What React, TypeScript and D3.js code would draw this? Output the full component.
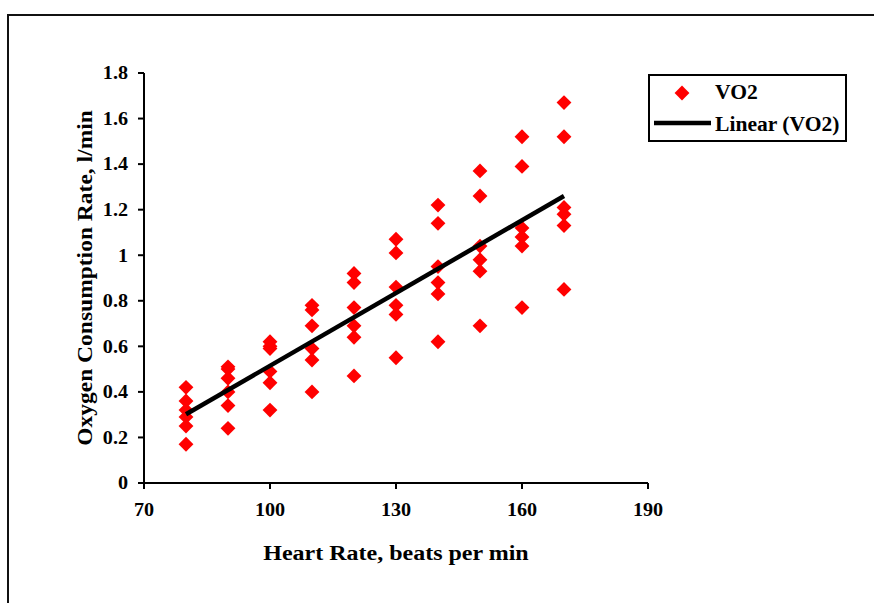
import React from 'react';
import * as d3 from 'd3';

// heart rate levels (beats per min)
const heartRates = [80, 90, 100, 110, 120, 130, 140, 150, 160, 170];

// VO2 readings (l/min) at each heart rate
const vo2At80 = [0.42, 0.36, 0.32, 0.29, 0.25, 0.17];
const vo2At90 = [0.51, 0.5, 0.46, 0.4, 0.34, 0.24];
const vo2At100 = [0.62, 0.6, 0.59, 0.49, 0.44, 0.32];
const vo2At110 = [0.78, 0.76, 0.69, 0.59, 0.54, 0.4];
const vo2At120 = [0.92, 0.88, 0.77, 0.69, 0.64, 0.47];
const vo2At130 = [1.07, 1.01, 0.86, 0.78, 0.74, 0.55];
const vo2At140 = [1.22, 1.14, 0.95, 0.88, 0.83, 0.62];
const vo2At150 = [1.37, 1.26, 1.04, 0.98, 0.93, 0.69];
const vo2At160 = [1.52, 1.39, 1.12, 1.08, 1.04, 0.77];
const vo2At170 = [1.67, 1.52, 1.21, 1.18, 1.13, 0.85];

const xTicks = [70, 100, 130, 160, 190];
const yTicks = [0, 0.2, 0.4, 0.6, 0.8, 1, 1.2, 1.4, 1.6, 1.8];

const seriesName = 'VO2';
const trendName = 'Linear (VO2)';
const xTitle = 'Heart Rate, beats per min';
const yTitle = 'Oxygen Consumption Rate, l/min';

const FONT = '"Liberation Serif", "Times New Roman", serif';

export default function App() {
  const width = 874,
    height = 603;
  const margin = { left: 144, right: 226, top: 73, bottom: 120 };

  const x = d3.scaleLinear().domain([70, 190]).range([margin.left, width - margin.right]);
  const y = d3.scaleLinear().domain([0, 1.8]).range([height - margin.bottom, margin.top]);

  const groups = [vo2At80, vo2At90, vo2At100, vo2At110, vo2At120, vo2At130, vo2At140, vo2At150, vo2At160, vo2At170];
  const points = groups.flatMap((vals, i) => vals.map((v) => ({ hr: heartRates[i], vo2: v })));

  // least squares trend line
  const mx = d3.mean(points, (d) => d.hr)!;
  const my = d3.mean(points, (d) => d.vo2)!;
  const slope =
    d3.sum(points, (d) => (d.hr - mx) * (d.vo2 - my)) / d3.sum(points, (d) => (d.hr - mx) * (d.hr - mx));
  const intercept = my - slope * mx;
  const [hrMin, hrMax] = d3.extent(points, (d) => d.hr) as [number, number];
  const trend = [hrMin, hrMax].map((h) => ({ hr: h, vo2: intercept + slope * h }));

  const trendLine = d3
    .line<{ hr: number; vo2: number }>()
    .x((d) => x(d.hr))
    .y((d) => y(d.vo2));

  const diamond = d3.symbol().type(d3.symbolSquare).size(110)()!;

  const x0 = x(70),
    y0 = y(0);

  // the original text is a bit wider than Liberation Serif, stretch it
  const sx = 1.12;

  return (
    <div style={{ position: 'absolute', left: 0, top: 0 }}>
      <svg width={width} height={height} style={{ display: 'block', background: '#fff' }}>
        {/* outer frame */}
        <rect x={8} y={15} width={900} height={620} fill="none" stroke="#111" strokeWidth={2} />

        {/* axes */}
        <g fontFamily={FONT} fontWeight="bold" fontSize={18} fill="#000">
          <line x1={x0} x2={x(190)} y1={y0} y2={y0} stroke="#000" strokeWidth={2} />
          <line x1={x0} x2={x0} y1={y0} y2={y(1.8)} stroke="#000" strokeWidth={2} />
          {xTicks.map((t) => (
            <g key={'x' + t}>
              <line x1={x(t)} x2={x(t)} y1={y0} y2={y0 + 6} stroke="#000" strokeWidth={2} />
              <text transform={`translate(${x(t)},${y0 + 33}) scale(${sx},1)`} textAnchor="middle">
                {t}
              </text>
            </g>
          ))}
          {yTicks.map((t) => (
            <g key={'y' + t}>
              <line x1={x0 - 6} x2={x0} y1={y(t)} y2={y(t)} stroke="#000" strokeWidth={2} />
              <text transform={`translate(${x0 - 16},${y(t)}) scale(${sx},1)`} dy="0.35em" textAnchor="end">
                {String(t)}
              </text>
            </g>
          ))}
          <text
            transform={`translate(${(x0 + x(190)) / 2},560) scale(1.2,1)`}
            textAnchor="middle"
            fontSize={20}
          >
            {xTitle}
          </text>
          <text
            transform={`translate(92,${(y0 + y(1.8)) / 2}) rotate(-90) scale(1.12,1)`}
            textAnchor="middle"
            fontSize={21}
          >
            {yTitle}
          </text>
        </g>

        {/* points */}
        {points.map((d, i) => (
          <path
            key={i}
            d={diamond}
            transform={`translate(${x(d.hr)},${y(d.vo2)}) rotate(45)`}
            fill="#ff0000"
          />
        ))}

        {/* trend */}
        <path d={trendLine(trend)!} fill="none" stroke="#000" strokeWidth={4.5} />

        {/* legend */}
        <g fontFamily={FONT} fontWeight="bold" fontSize={20}>
          <rect x={649} y={75} width={197} height={66} fill="#fff" stroke="#000" strokeWidth={2} />
          <path d={diamond} transform="translate(682,93) rotate(45)" fill="#ff0000" />
          <text transform={`translate(715,99) scale(1.08,1)`}>{seriesName}</text>
          <line x1={654} x2={711} y1={123} y2={123} stroke="#000" strokeWidth={4.5} />
          <text transform={`translate(715,131) scale(1.08,1)`}>{trendName}</text>
        </g>
      </svg>
    </div>
  );
}
